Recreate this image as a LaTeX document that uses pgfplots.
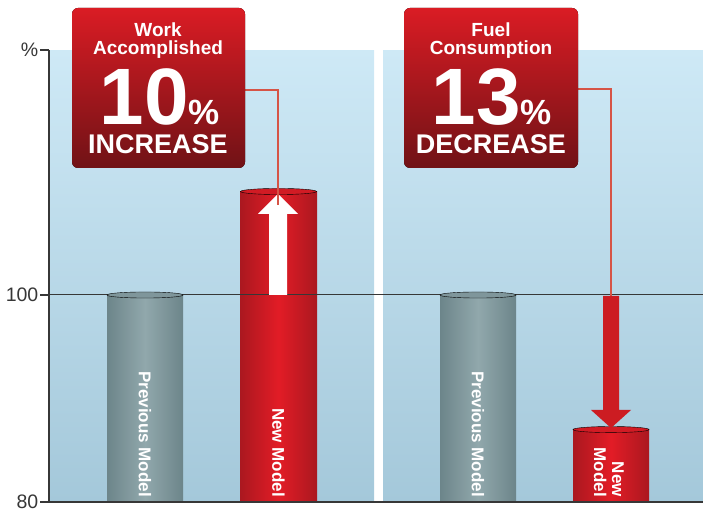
\documentclass[border=0pt]{standalone}
\usepackage{pgfplots}
\pgfplotsset{compat=1.18}
\usepackage{fontspec}
\setmainfont{Liberation Sans}
\definecolor{bgtop}{RGB}{206,233,246}
\definecolor{bgbot}{RGB}{164,200,218}
\definecolor{boxtop}{RGB}{218,28,36}
\definecolor{boxbot}{RGB}{112,18,22}
\definecolor{rdark}{RGB}{115,20,25}
\definecolor{rlight}{RGB}{226,28,38}
\definecolor{gdark}{RGB}{72,98,104}
\definecolor{glight}{RGB}{145,168,172}
\definecolor{conn}{RGB}{214,84,70}
\definecolor{arrred}{RGB}{204,28,34}
\definecolor{axgray}{RGB}{55,55,55}
\pgfdeclarehorizontalshading{graycyl}{100bp}{color(0bp)=(gdark); color(50bp)=(glight); color(100bp)=(gdark)}
\pgfdeclarehorizontalshading{redcyl}{100bp}{color(0bp)=(rdark); color(50bp)=(rlight); color(100bp)=(rdark)}
\begin{document}
\begin{tikzpicture}
\begin{axis}[
  x=1pt, y=10.35pt,
  xmin=49, xmax=703, ymin=80, ymax=123.67,
  axis x line*=bottom, axis y line*=left,
  axis line style={-, draw=axgray, line width=1.2pt},
  xtick=\empty,
  ytick={80,100,123.67}, yticklabels={80,100,\%},
  tick align=outside, major tick length=9pt,
  tick style={draw=axgray, line width=1.2pt},
  yticklabel style={font=\fontsize{19.5}{19.5}\selectfont, text=axgray, inner sep=1.5pt},
  /pgf/number format/assume math mode=true,
  axis on top,
]
\coordinate (P0) at (axis cs:0,128.502);
\fill[top color=bgtop, bottom color=bgbot] (axis cs:49,80) rectangle (axis cs:374,123.67);
\fill[top color=bgtop, bottom color=bgbot] (axis cs:383,80) rectangle (axis cs:703,123.67);
% bars
\addplot[ybar, bar width=76, bar shift=0pt, draw=none, shade, shading=graycyl] coordinates {(145,100)};
\addplot[ybar, bar width=76, bar shift=0pt, draw=none, shade, shading=graycyl] coordinates {(478,100)};
\addplot[ybar, bar width=77, bar shift=0pt, draw=none, shade, shading=redcyl] coordinates {(278.5,110)};
\addplot[ybar, bar width=76, bar shift=0pt, draw=none, shade, shading=redcyl] coordinates {(611,87)};
% cylinder caps
\addplot[only marks, mark=*, mark size=38pt, mark options={yscale=0.08, draw=none, fill=glight!75!gdark}] coordinates {(145,100) (478,100)};
\addplot[only marks, mark=*, mark size=38pt, mark options={yscale=0.08, draw=none, fill=rlight!85!rdark}] coordinates {(278.5,110) (611,87)};
\draw[draw=axgray, line width=1pt] (axis cs:49,100) -- (axis cs:703,100);
\end{axis}
\begin{scope}[shift={(P0)}, x=1pt, y=-1pt]
  % connector lines
  \draw[conn, line width=1.5pt] (245,90) -- (278,90) -- (278,205);
  \draw[conn, line width=1.5pt] (578,89) -- (611,89) -- (611,296);
  % up arrow
  \fill[white] (269,295) -- (269,214) -- (258,214) -- (278,194) -- (298,214) -- (287,214) -- (287,295) -- cycle;
  \draw[conn, line width=1.5pt] (278,190) -- (278,205);
  % down arrow
  \fill[arrred] (603,296) -- (603,410) -- (591,410) -- (611,428) -- (631,410) -- (619,410) -- (619,296) -- cycle;
  % boxes
  \fill[top color=boxtop, bottom color=boxbot, rounded corners=6pt] (72,8) rectangle (245,168);
  \fill[top color=boxtop, bottom color=boxbot, rounded corners=6pt] (404,8) rectangle (578,168);
  \begin{scope}[every node/.style={text=white, inner sep=0pt, anchor=base}]
    \node[font=\bfseries\fontsize{19}{19}\selectfont] at (158,37) {Work};
    \node[font=\bfseries\fontsize{19}{19}\selectfont] at (158,55) {Accomplished};
    \node[font=\bfseries, text depth=0pt, text height=58pt] at (160,125) {{\fontsize{80}{80}\selectfont 10}{\fontsize{35}{35}\selectfont\%}};
    \node[font=\bfseries\fontsize{27}{27}\selectfont] at (158,154) {INCREASE};
    \node[font=\bfseries\fontsize{19}{19}\selectfont] at (491,37) {Fuel};
    \node[font=\bfseries\fontsize{19}{19}\selectfont] at (491,55) {Consumption};
    \node[font=\bfseries, text depth=0pt, text height=58pt] at (492,125) {{\fontsize{80}{80}\selectfont 13}{\fontsize{35}{35}\selectfont\%}};
    \node[font=\bfseries\fontsize{27}{27}\selectfont] at (491,154) {DECREASE};
  \end{scope}
  % bar labels
  \begin{scope}[every node/.style={text=white, inner sep=0pt, anchor=east, rotate=-90, font=\bfseries\fontsize{17}{18}\selectfont}]
    \node at (145,497) {Previous Model};
    \node at (478,497) {Previous Model};
    \node at (278.5,497) {New Model};
    \node[align=right] at (609,497) {New\\Model};
  \end{scope}
\end{scope}
\pgfresetboundingbox
\path[use as bounding box] (P0) rectangle ++(703pt,-508pt);
\end{tikzpicture}
\end{document}
